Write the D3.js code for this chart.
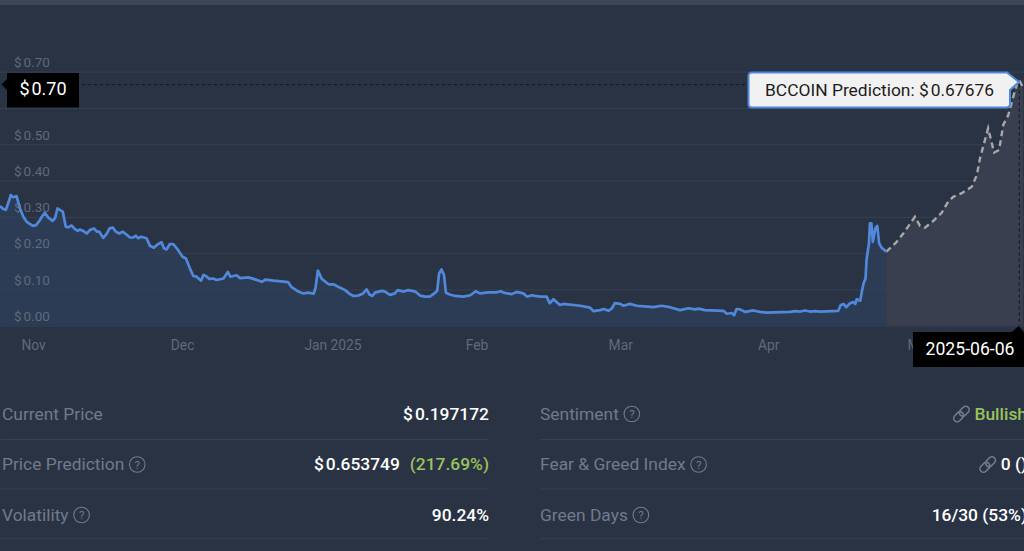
<!DOCTYPE html>
<html>
<head>
<meta charset="utf-8">
<script src="https://cdn.jsdelivr.net/npm/d3@7"></script>
<style>
  html, body { margin: 0; padding: 0; background: #293344; overflow: hidden; }
  svg { display: block; font-family: Roboto, sans-serif; }
  .domain { display: none; }
</style>
</head>
<body>
<div id="chart"></div>
<script>
// days since the start of the chart, and the price
var histDays = [0,.6,1.2,1.8,2.2,2.7,3.4,4.1,4.8,5.5,6.2,6.8,7.4,8.1,8.6,9.2,9.9,10.8,11.3,11.8,12.3,12.9,13.5,14,14.7,15.4,16,16.4,17.1,17.8,18.5,19.3,19.9,20.4,21.2,21.9,22.5,23.2,23.8,24.5,25.2,25.9,26.7,27.4,27.9,28.4,29,30.1,30.8,31.6,32.5,33.2,33.7,34.2,34.9,35.6,36.6,37.5,38.2,39,39.7,40.4,41.3,41.8,42.3,43,43.8,44.5,45.9,46.8,47.3,48.6,49.3,51,52.1,53.8,54.5,56.2,59.2,59.9,61.3,62.3,63.4,64.4,64.8,65.3,66.1,67.5,68.5,69.8,70.9,71.9,72.6,73.6,74.6,75.3,75.9,76.5,77,78.4,79.1,80.1,81.1,81.7,82.9,83.9,85.3,86.3,87.3,88.3,89.4,89.8,90.2,90.7,91.2,91.6,92.4,93.5,95.2,96.6,97.7,98.6,100.3,102,102.9,103.4,105.1,106.1,107.5,108.3,109.2,109.9,110.9,112.3,112.9,113.7,115,115.7,119.2,121.2,121.9,123.3,124,125,125.7,126.3,127.4,128.1,129.4,130.8,134.2,135.9,137.6,139.7,141.4,142.8,143.5,144.8,148.6,149.3,150.3,150.8,151.3,152,153.1,154.8,156.1,157.5,162.3,163.3,164.4,165.4,166.4,167.4,168.5,172.2,172.7,173.3,173.8,174.6,175.3,175.7,176,176.7,177.1,177.4,177.8,178,178.5,178.7,179,179.3,179.8,180.2,180.6,181.1,182.1];
var histPrice = [.33,.322,.319,.342,.36,.354,.357,.323,.3,.286,.28,.275,.277,.289,.3,.311,.298,.289,.296,.323,.319,.314,.273,.271,.276,.266,.261,.265,.261,.254,.264,.268,.259,.259,.242,.253,.268,.27,.259,.254,.259,.252,.243,.243,.248,.241,.245,.241,.22,.215,.225,.23,.213,.21,.225,.225,.208,.19,.185,.158,.137,.135,.124,.14,.137,.129,.13,.126,.13,.148,.135,.139,.131,.133,.129,.121,.127,.124,.12,.106,.094,.089,.091,.088,.103,.152,.129,.114,.114,.105,.098,.087,.082,.083,.089,.1,.086,.082,.091,.096,.094,.085,.089,.098,.094,.098,.094,.083,.08,.08,.091,.096,.144,.155,.14,.091,.086,.082,.08,.084,.095,.089,.092,.092,.095,.091,.087,.093,.089,.08,.084,.082,.08,.08,.062,.073,.057,.06,.055,.05,.04,.043,.046,.041,.048,.062,.06,.055,.06,.055,.051,.055,.051,.043,.048,.045,.047,.043,.041,.033,.035,.029,.046,.045,.038,.042,.038,.036,.038,.04,.039,.042,.039,.04,.039,.041,.057,.06,.051,.062,.065,.06,.073,.069,.098,.117,.13,.181,.227,.282,.282,.231,.268,.275,.227,.215,.204];
var forecastDays = [182.1,185.4,187.5,191.2,192.8,194.4,197.1,199.7,201.8,203.4,206.1,209.3,210.9,211.9,214.5,216.4,218,219.3,220.9,222.5,223.6,224.4,225.7];
var forecastPrice = [.204,.231,.254,.3,.275,.27,.289,.311,.342,.355,.365,.383,.415,.461,.544,.477,.484,.553,.58,.631,.663,.67676,.654];

// axis ticks
var priceTicks = [0,.1,.2,.3,.4,.5,.6,.7];
var monthDays = [6.8,37.4,68.3,97.9,127.4,157.8,192.8];
var monthLabels = ["Nov","Dec","Jan 2025","Feb","Mar","Apr","May"];

// stats table
var statLabels = ["Current Price","Price Prediction","Volatility"];
var statHelp = [false,true,true];
var statValues = ["0.197172","0.653749","90.24%"];
var sideLabels = ["Sentiment","Fear & Greed Index","Green Days"];
var sideValues = ["Bullish","0 ()","16/30 (53%)"];

var width = 1024, height = 551;
var plotBottom = 325.7;
var blue = "#5089dc", grey = "#6f7b8c";
var rowFont = "17.4px";

var svg = d3.select("#chart").append("svg")
  .attr("width", width)
  .attr("height", height);

svg.append("rect").attr("width", width).attr("height", 5).attr("fill", "#3c4557");

// forecast part of the axis is squeezed, so the scale has a knee at "today"
var x = d3.scaleLinear().domain([0, 182, 224]).range([0, 886, 1018]);
var y = d3.scaleLinear().domain([0, .7]).range([plotBottom, 71.6]);

var hist = histDays.map(function(d, i) { return {day: d, price: histPrice[i]}; });
var forecast = forecastDays.map(function(d, i) { return {day: d, price: forecastPrice[i]}; });

var line = d3.line()
  .x(function(d) { return x(d.day); })
  .y(function(d) { return y(d.price); });
var area = d3.area()
  .x(function(d) { return x(d.day); })
  .y0(plotBottom)
  .y1(function(d) { return y(d.price); });

svg.append("path").datum(hist).attr("d", area).attr("fill", "#2d3c55");
svg.append("path").datum(forecast).attr("d", area).attr("fill", "#393f4e");

// writes $ with the small gap the site puts after it
function money(sel, val) {
  sel.text(null);
  sel.append("tspan").text("$");
  sel.append("tspan").attr("dx", 2).text(val);
}

// y axis, grid lines run the full width
var yAxis = svg.append("g")
  .attr("class", "y axis")
  .call(d3.axisRight(y).tickValues(priceTicks).tickSize(width));
yAxis.selectAll("line").attr("stroke", "#364154");
yAxis.selectAll("text")
  .attr("x", 14)
  .attr("y", -9.5)
  .attr("fill", "#5f6a7b")
  .style("font-size", "13.5px")
  .style("font-family", "Roboto")
  .each(function(d) { money(d3.select(this), d.toFixed(2)); });

// x axis
var xAxis = svg.append("g")
  .attr("class", "x axis")
  .attr("transform", "translate(0," + plotBottom + ")")
  .call(d3.axisBottom(x).tickValues(monthDays).tickSize(0)
    .tickFormat(function(d, i) { return monthLabels[i]; }));
xAxis.selectAll("text")
  .attr("y", 14.5)
  .attr("fill", "#5f6a7b")
  .style("font-size", "13.8px")
  .style("font-family", "Roboto");

// price and forecast lines
svg.append("path").datum(forecast)
  .attr("d", line)
  .attr("fill", "none")
  .attr("stroke", "#a8a8a8")
  .attr("stroke-width", 2.4)
  .attr("stroke-dasharray", "6,4");
svg.append("path").datum(hist)
  .attr("d", line)
  .attr("fill", "none")
  .attr("stroke", blue)
  .attr("stroke-width", 2.7)
  .attr("stroke-linejoin", "round");

// crosshair
var hoverX = x(224.4), hoverY = y(.67676) + 4.5;
svg.append("line")
  .attr("x1", 82).attr("x2", hoverX).attr("y1", hoverY).attr("y2", hoverY)
  .attr("stroke", "#11161f").attr("stroke-dasharray", "3,3");
svg.append("line")
  .attr("x1", hoverX).attr("x2", hoverX).attr("y1", hoverY).attr("y2", plotBottom)
  .attr("stroke", "#11161f").attr("stroke-dasharray", "3,3");

// black label on the y axis
svg.append("path")
  .attr("d", "M7,73H79V107.5H7V90L1.5,84.5L7,79Z")
  .attr("fill", "#000");
svg.append("text")
  .attr("x", 43).attr("y", 94.5)
  .attr("text-anchor", "middle")
  .attr("fill", "#fff")
  .style("font-size", "18px")
  .call(money, "0.70");

// black label on the x axis
svg.append("path")
  .attr("d", "M913,332H1012L1018.5,326L1024,332V367H913Z")
  .attr("fill", "#000");
svg.append("text")
  .attr("x", 970).attr("y", 354.5)
  .attr("text-anchor", "middle")
  .attr("fill", "#fff")
  .style("font-size", "17.6px")
  .text("2025-06-06");

// prediction tooltip
svg.append("path")
  .attr("d", "M752,72.5H1007L1019,82L1010,90V104Q1010,107.5 1006,107.5H752Q748.5,107.5 748.5,104V76Q748.5,72.5 752,72.5Z")
  .attr("fill", "#f1f1f2")
  .attr("stroke", blue)
  .attr("stroke-width", 2);
svg.append("text")
  .attr("x", 879.5).attr("y", 96)
  .attr("text-anchor", "middle")
  .attr("fill", "#1c1c1c")
  .style("font-size", "17.4px")
  .call(function(t) {
    t.append("tspan").text("BCCOIN Prediction: $");
    t.append("tspan").attr("dx", 2).text("0.67676");
  });

// small round ? icon
function helpIcon(g, cx, cy) {
  g.append("circle")
    .attr("cx", cx).attr("cy", cy).attr("r", 7.8)
    .attr("fill", "none").attr("stroke", grey).attr("stroke-width", 1.1);
  g.append("text")
    .attr("x", cx).attr("y", cy + 4)
    .attr("text-anchor", "middle")
    .attr("fill", grey)
    .style("font-size", "11.5px")
    .text("?");
}

// chain link icon
function linkIcon(g, cx, cy) {
  var icon = g.append("g")
    .attr("transform", "translate(" + cx + "," + cy + ") rotate(-45)")
    .attr("fill", "none").attr("stroke", grey).attr("stroke-width", 1.6);
  icon.append("rect").attr("x", -9.5).attr("y", -3.5).attr("width", 11).attr("height", 7).attr("rx", 3.5);
  icon.append("rect").attr("x", -1.5).attr("y", -3.5).attr("width", 11).attr("height", 7).attr("rx", 3.5);
}

var rowY = [414, 464.5, 515];
var ruleY = [439.5, 489, 538.7];
var labelColor = "#6f7b8c";

function textWidth(node) { return node.getComputedTextLength(); }

// left table
var left = svg.append("g");
statLabels.forEach(function(label, i) {
  var t = left.append("text")
    .attr("x", 2).attr("y", rowY[i] + 5.8)
    .attr("fill", labelColor)
    .style("font-size", rowFont)
    .text(label);
  if (statHelp[i]) helpIcon(left, 2 + textWidth(t.node()) + 13, rowY[i]);
  left.append("line")
    .attr("x1", 1).attr("x2", 489).attr("y1", ruleY[i]).attr("y2", ruleY[i])
    .attr("stroke", "#354052");
});
left.append("text")
  .attr("x", 489).attr("y", rowY[0] + 5.8)
  .attr("text-anchor", "end").attr("fill", "#fff")
  .style("font-size", rowFont).style("font-weight", 500)
  .call(money, statValues[0]);
var pct = left.append("text")
  .attr("x", 489).attr("y", rowY[1] + 5.8)
  .attr("text-anchor", "end").attr("fill", "#9bc25b")
  .style("font-size", rowFont).style("font-weight", 500)
  .text("(217.69%)");
left.append("text")
  .attr("x", 489 - textWidth(pct.node()) - 10).attr("y", rowY[1] + 5.8)
  .attr("text-anchor", "end").attr("fill", "#fff")
  .style("font-size", rowFont).style("font-weight", 500)
  .call(money, statValues[1]);
left.append("text")
  .attr("x", 489).attr("y", rowY[2] + 5.8)
  .attr("text-anchor", "end").attr("fill", "#fff")
  .style("font-size", rowFont).style("font-weight", 500)
  .text(statValues[2]);

// right table, runs off the edge of the window
var right = svg.append("g");
var sideColors = ["#9bc25b", "#fff", "#fff"];
sideLabels.forEach(function(label, i) {
  var t = right.append("text")
    .attr("x", 540).attr("y", rowY[i] + 5.8)
    .attr("fill", labelColor)
    .style("font-size", rowFont)
    .text(label);
  helpIcon(right, 540 + textWidth(t.node()) + 13, rowY[i]);
  right.append("line")
    .attr("x1", 540).attr("x2", width).attr("y1", ruleY[i]).attr("y2", ruleY[i])
    .attr("stroke", "#354052");
  var v = right.append("text")
    .attr("x", 1027).attr("y", rowY[i] + 5.8)
    .attr("text-anchor", "end")
    .attr("fill", sideColors[i])
    .style("font-size", rowFont).style("font-weight", 500)
    .text(sideValues[i]);
  if (i < 2) linkIcon(right, 1027 - textWidth(v.node()) - 13, rowY[i]);
});
</script>
</body>
</html>
